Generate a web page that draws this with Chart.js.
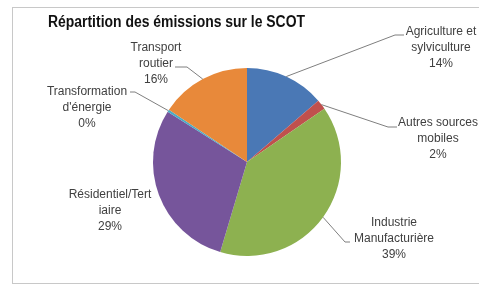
<!DOCTYPE html>
<html>
<head>
<meta charset="utf-8">
<script src="https://cdn.jsdelivr.net/npm/chart.js@4/dist/chart.umd.min.js"></script>
<style>
  html, body { margin: 0; padding: 0; background: #fff; }
  #wrap { width: 479px; height: 285px; }
</style>
</head>
<body>
<div id="wrap"><canvas id="pie" width="479" height="285"></canvas></div>
<script>
// valeurs (%)
const categories = ['Agriculture et sylviculture', 'Autres sources mobiles', 'Industrie Manufacturière',
                    'Résidentiel/Tertiaire', "Transformation d'énergie", 'Transport routier'];
const shares = [13.7, 1.7, 39.2, 29.4, 0.4, 15.6];
const labelLines = [['Agriculture et', 'sylviculture'], ['Autres sources', 'mobiles'], ['Industrie', 'Manufacturière'],
                    ['Résidentiel/Tert', 'iaire'], ['Transformation', "d'énergie"], ['Transport', 'routier']];
const colors = ['#4A78B5', '#C0504D', '#8DB150', '#76559B', '#4BACC6', '#E8893A'];

// placement des étiquettes (centre du texte, 1re ligne) et coude des lignes de rappel
const labelLayout = [
    { cx: 441, y: 32, elbow: [395, 35], end: [404, 35] },
    { cx: 438, y: 123, elbow: [388, 127], end: [397, 127] },
    { cx: 394, y: 223, elbow: [345, 242], end: [350, 242] },
    { cx: 110, y: 195 },
    { cx: 87, y: 92, elbow: [135, 92], end: [130, 92] },
    { cx: 156, y: 48, elbow: [187, 67], end: [175, 67] }
];

const excelLabels = {
    id: 'excelLabels',
    beforeDraw(chart) {
        const c = chart.ctx;
        c.save();
        c.strokeStyle = '#c8c8c8';
        c.lineWidth = 1;
        c.strokeRect(12.5, 7.5, 480, 276);
        c.restore();
    },
    afterDraw(chart) {
        const c = chart.ctx;
        const arcs = chart.getDatasetMeta(0).data;
        c.save();
        // titre
        c.fillStyle = '#111';
        c.font = 'bold 16px "Liberation Sans", Arial, sans-serif';
        c.textBaseline = 'middle';
        c.textAlign = 'left';
        c.fillText('Répartition des émissions sur le SCOT', 48, 23, 257);

        c.strokeStyle = '#7f7f7f';
        c.lineWidth = 1;
        arcs.forEach(function(arc, i) {
            const lay = labelLayout[i];
            if (lay.elbow) {
                const mid = (arc.startAngle + arc.endAngle) / 2;
                const sx = arc.x + Math.cos(mid) * arc.outerRadius;
                const sy = arc.y + Math.sin(mid) * arc.outerRadius;
                c.beginPath();
                c.moveTo(sx, sy);
                c.lineTo(lay.elbow[0], lay.elbow[1]);
                c.lineTo(lay.end[0], lay.end[1]);
                c.stroke();
            }
            c.fillStyle = '#404040';
            c.font = '12px "Liberation Sans", Arial, sans-serif';
            c.textAlign = 'center';
            const lines = labelLines[i].concat([Math.round(shares[i]) + '%']);
            lines.forEach(function(t, k) {
                c.fillText(t, lay.cx, lay.y + k * 16);
            });
        });
        c.restore();
    }
};

new Chart(document.getElementById('pie'), {
    type: 'pie',
    data: {
        labels: categories,
        datasets: [{
            data: shares,
            backgroundColor: colors,
            borderWidth: 0
        }]
    },
    options: {
        responsive: false,
        animation: false,
        devicePixelRatio: 1,
        layout: { padding: { left: 153, right: 138, top: 68, bottom: 29 } },
        plugins: {
            legend: { display: false },
            tooltip: { enabled: false }
        }
    },
    plugins: [excelLabels]
});
</script>
</body>
</html>
